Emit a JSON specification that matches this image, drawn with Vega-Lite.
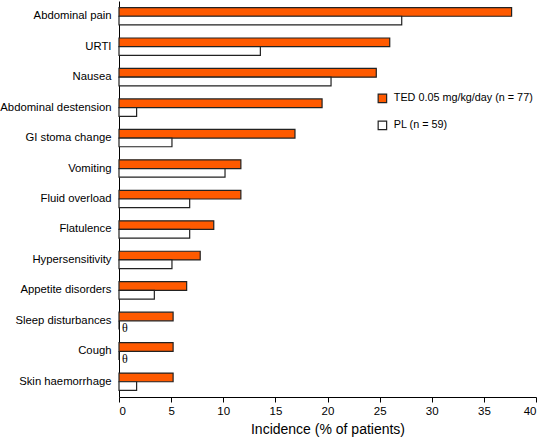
{
  "$schema": "https://vega.github.io/schema/vega-lite/v6.json",
  "autosize": "none",
  "width": 417,
  "height": 396,
  "padding": {"left": 119, "top": 1, "right": 8, "bottom": 40},
  "background": "white",
  "config": {
    "view": {"stroke": null},
    "font": "Liberation Sans",
    "axis": {"domainColor": "black", "tickColor": "black", "labelColor": "black", "titleColor": "black", "labelFont": "Liberation Sans", "titleFont": "Liberation Sans", "titleFontWeight": "normal"},
    "legend": {"labelFont": "Liberation Sans", "labelColor": "black"}
  },
  "data": {
    "values": [
      {"ae": "Abdominal pain", "group": "TED 0.05 mg/kg/day (n = 77)", "pct": 37.66, "note": ""},
      {"ae": "Abdominal pain", "group": "PL (n = 59)", "pct": 27.12, "note": ""},
      {"ae": "URTI", "group": "TED 0.05 mg/kg/day (n = 77)", "pct": 25.97, "note": ""},
      {"ae": "URTI", "group": "PL (n = 59)", "pct": 13.56, "note": ""},
      {"ae": "Nausea", "group": "TED 0.05 mg/kg/day (n = 77)", "pct": 24.68, "note": ""},
      {"ae": "Nausea", "group": "PL (n = 59)", "pct": 20.34, "note": ""},
      {"ae": "Abdominal destension", "group": "TED 0.05 mg/kg/day (n = 77)", "pct": 19.48, "note": ""},
      {"ae": "Abdominal destension", "group": "PL (n = 59)", "pct": 1.69, "note": ""},
      {"ae": "GI stoma change", "group": "TED 0.05 mg/kg/day (n = 77)", "pct": 16.88, "note": ""},
      {"ae": "GI stoma change", "group": "PL (n = 59)", "pct": 5.08, "note": ""},
      {"ae": "Vomiting", "group": "TED 0.05 mg/kg/day (n = 77)", "pct": 11.69, "note": ""},
      {"ae": "Vomiting", "group": "PL (n = 59)", "pct": 10.17, "note": ""},
      {"ae": "Fluid overload", "group": "TED 0.05 mg/kg/day (n = 77)", "pct": 11.69, "note": ""},
      {"ae": "Fluid overload", "group": "PL (n = 59)", "pct": 6.78, "note": ""},
      {"ae": "Flatulence", "group": "TED 0.05 mg/kg/day (n = 77)", "pct": 9.09, "note": ""},
      {"ae": "Flatulence", "group": "PL (n = 59)", "pct": 6.78, "note": ""},
      {"ae": "Hypersensitivity", "group": "TED 0.05 mg/kg/day (n = 77)", "pct": 7.79, "note": ""},
      {"ae": "Hypersensitivity", "group": "PL (n = 59)", "pct": 5.08, "note": ""},
      {"ae": "Appetite disorders", "group": "TED 0.05 mg/kg/day (n = 77)", "pct": 6.49, "note": ""},
      {"ae": "Appetite disorders", "group": "PL (n = 59)", "pct": 3.39, "note": ""},
      {"ae": "Sleep disturbances", "group": "TED 0.05 mg/kg/day (n = 77)", "pct": 5.19, "note": ""},
      {"ae": "Sleep disturbances", "group": "PL (n = 59)", "pct": 0, "note": "θ"},
      {"ae": "Cough", "group": "TED 0.05 mg/kg/day (n = 77)", "pct": 5.19, "note": ""},
      {"ae": "Cough", "group": "PL (n = 59)", "pct": 0, "note": "θ"},
      {"ae": "Skin haemorrhage", "group": "TED 0.05 mg/kg/day (n = 77)", "pct": 5.19, "note": ""},
      {"ae": "Skin haemorrhage", "group": "PL (n = 59)", "pct": 1.69, "note": ""}
    ]
  },
  "encoding": {
    "y": {
      "field": "ae", "type": "nominal", "sort": null,
      "scale": {"paddingInner": 0.43, "paddingOuter": 0.215},
      "axis": {"title": null, "ticks": false, "domain": true, "labelFontSize": 11.3, "labelPadding": 8, "domainWidth": 1}
    },
    "yOffset": {
      "field": "group", "type": "nominal",
      "sort": ["TED 0.05 mg/kg/day (n = 77)", "PL (n = 59)"],
      "scale": {"paddingInner": 0, "paddingOuter": 0}
    },
    "x": {
      "field": "pct", "type": "quantitative",
      "scale": {"domain": [0, 40], "nice": false},
      "axis": {"values": [0, 5, 10, 15, 20, 25, 30, 35, 40], "grid": false, "tickSize": 5, "labelFontSize": 11.5, "labelPadding": 3, "title": "Incidence (% of patients)", "titleFontSize": 14, "titlePadding": 6}
    }
  },
  "layer": [
    {
      "mark": {"type": "bar", "stroke": "#222222", "strokeWidth": 1.2},
      "encoding": {
        "color": {
          "field": "group", "type": "nominal",
          "scale": {"domain": ["TED 0.05 mg/kg/day (n = 77)", "PL (n = 59)"], "range": ["#FF5A00", "#FFFFFF"]},
          "legend": {
            "title": null, "orient": "none", "legendX": 258, "legendY": 92,
            "symbolType": "square", "symbolSize": 72, "symbolStrokeColor": "#222222", "symbolStrokeWidth": 1.2,
            "labelFontSize": 10.8, "rowPadding": 12, "labelOffset": 6, "labelLimit": 300
          }
        }
      }
    },
    {
      "mark": {"type": "text", "font": "Liberation Serif", "fontSize": 12, "align": "left", "dx": 3, "dy": 3, "baseline": "middle", "color": "black"},
      "encoding": {"text": {"field": "note"}}
    }
  ]
}
